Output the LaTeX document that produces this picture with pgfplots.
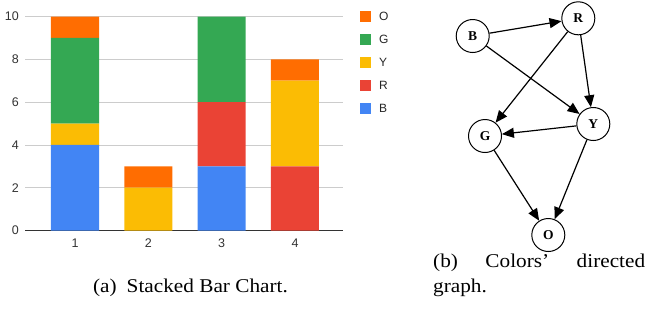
\documentclass[border=0pt]{standalone}
\usepackage{fontspec}
\setmainfont{Liberation Serif}
\newfontfamily\arial{Liberation Sans}
\newfontfamily\capfont[FakeStretch=1.09,Ligatures=TeX]{Liberation Serif}
\usepackage{pgfplots}
\pgfplotsset{compat=1.18}
\usetikzlibrary{arrows.meta}
\definecolor{cB}{HTML}{4285F4}
\definecolor{cR}{HTML}{EA4335}
\definecolor{cY}{HTML}{FBBC04}
\definecolor{cG}{HTML}{34A853}
\definecolor{cO}{HTML}{FF6D01}
\begin{document}
\begin{tikzpicture}
\useasboundingbox (0pt,0pt) rectangle (647pt,-325pt);
\begin{axis}[
  at={(25pt,-230.5pt)}, anchor=south west,
  scale only axis, width=318pt, height=214pt,
  ybar stacked, bar width=0.655,
  xmin=0.318, xmax=4.655, ymin=0, ymax=10,
  xtick={1,2,3,4}, ytick={0,2,4,6,8,10},
  axis x line*=bottom, axis y line*=left,
  x axis line style={draw=black!80, line width=1pt, -},
  y axis line style={draw=none},
  major tick length=0pt,
  ymajorgrids, grid style={black!20, line width=0.8pt},
  /pgf/number format/assume math mode=true,
  tick label style={font=\arial\fontsize{12.5}{14}\selectfont, text=black!80},
  yticklabel style={inner sep=0pt, xshift=-6pt},
  xticklabel style={anchor=north, inner sep=0pt, yshift=-8pt},
  legend image code/.code={\fill[#1] (0pt,-5.5pt) rectangle (11pt,5.5pt);},
  reverse legend,
  legend cell align=left,
  legend style={draw=none, fill=none, at={(axis description cs:1.053,1.025)}, anchor=north west,
    inner sep=0pt, row sep=12pt, column sep=8pt,
    font=\arial\fontsize{12}{12}\selectfont, text=black!85,
    nodes={inner sep=0pt}},
]
\addplot[fill=cB, draw=none] coordinates {(1,4) (2,0) (3,3) (4,0)};
\addplot[fill=cR, draw=none] coordinates {(1,0) (2,0) (3,3) (4,3)};
\addplot[fill=cY, draw=none] coordinates {(1,1) (2,2) (3,0) (4,4)};
\addplot[fill=cG, draw=none] coordinates {(1,4) (2,0) (3,4) (4,0)};
\addplot[fill=cO, draw=none] coordinates {(1,1) (2,1) (3,0) (4,1)};
\legend{B,R,Y,G,O}
\end{axis}
% directed graph
\begin{scope}[every node/.style={draw, circle, line width=1pt, minimum size=33pt, inner sep=0pt, font=\bfseries\fontsize{13.5}{15}\selectfont}]
\node (B) at (472.7pt,-36pt) {B};
\node (R) at (578.3pt,-18.3pt) {R};
\node (Y) at (593.3pt,-124pt) {Y};
\node (G) at (485pt,-136pt) {G};
\node (O) at (548.3pt,-235pt) {O};
\end{scope}
\begin{scope}[line width=1.2pt, -{Triangle[length=12pt,width=10pt]}]
\draw (B) -- (R);
\draw (B) -- (Y);
\draw (R) -- (G);
\draw (R) -- (Y);
\draw (Y) -- (G);
\draw (G) -- (O);
\draw (Y) -- (O);
\end{scope}
% captions
\node[anchor=base, inner sep=0pt, font=\capfont\fontsize{19.5}{24.4}\selectfont] at (190.5pt,-292.3pt) {(a)\hspace{10pt}Stacked Bar Chart.};
\node[anchor=base west, inner sep=0pt, align=left, font=\capfont\fontsize{19.5}{24.4}\selectfont] at (433pt,-292.3pt) {\hbox to 212pt{(b)\hfill Colors’\hfill directed}\\graph.};
\end{tikzpicture}
\end{document}
